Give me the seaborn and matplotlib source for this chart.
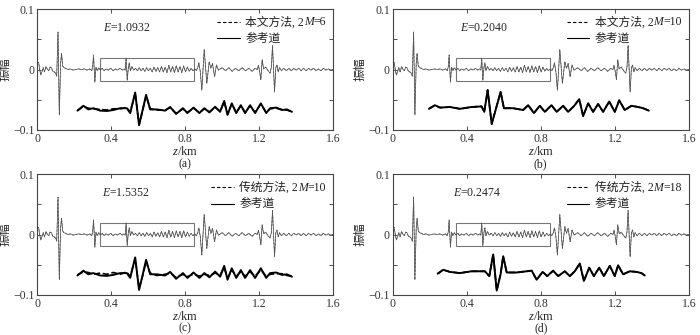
import matplotlib
matplotlib.use("Agg")
import matplotlib.pyplot as plt
from matplotlib.patches import Rectangle
from matplotlib.lines import Line2D
from matplotlib.offsetbox import (AnchoredOffsetbox, DrawingArea, HPacker,
                                  TextArea, VPacker)
import seaborn as sns

sns.set_style("ticks")
plt.rcParams['font.family'] = ['Liberation Serif', 'Noto Sans CJK SC']
plt.rcParams['mathtext.fontset'] = 'custom'
plt.rcParams['mathtext.it'] = 'Liberation Serif:italic'
plt.rcParams['mathtext.rm'] = 'Liberation Serif'

# main seismic trace (same in all panels)
main_z = [0.000, 0.008, 0.015, 0.020, 0.027, 0.033, 0.040, 0.048, 0.056, 0.063,
          0.070, 0.077, 0.085, 0.093, 0.100, 0.106, 0.113, 0.120, 0.127, 0.132,
          0.138, 0.145, 0.155, 0.165, 0.180, 0.195, 0.210, 0.225, 0.240, 0.255,
          0.270, 0.285, 0.295, 0.300, 0.305, 0.312, 0.318, 0.325, 0.333, 0.342,
          0.352, 0.362, 0.372, 0.385, 0.398, 0.410, 0.422, 0.435, 0.448, 0.460,
          0.470, 0.476, 0.481, 0.487, 0.493, 0.498, 0.504, 0.512, 0.522, 0.532,
          0.542, 0.552, 0.562, 0.572, 0.582, 0.592, 0.602, 0.612, 0.622, 0.632,
          0.642, 0.652, 0.662, 0.672, 0.682, 0.692, 0.702, 0.712, 0.722, 0.732,
          0.742, 0.752, 0.762, 0.772, 0.782, 0.792, 0.802, 0.812, 0.822, 0.832,
          0.842, 0.852, 0.860, 0.868, 0.874, 0.882, 0.890, 0.903, 0.917, 0.930,
          0.939, 0.948, 0.959, 0.969, 0.980, 1.000, 1.018, 1.036, 1.054, 1.072,
          1.090, 1.108, 1.126, 1.144, 1.162, 1.178, 1.190, 1.196, 1.203, 1.209,
          1.216, 1.224, 1.235, 1.248, 1.259, 1.266, 1.272, 1.283, 1.290, 1.296,
          1.303, 1.310, 1.320, 1.333, 1.347, 1.360, 1.374, 1.387, 1.400, 1.414,
          1.427, 1.440, 1.454, 1.467, 1.480, 1.494, 1.507, 1.520, 1.534, 1.547,
          1.560, 1.574, 1.587, 1.600]
main_amp = [0.010, 0.012, -0.002, -0.009, -0.003, 0.003, -0.004, 0.005, 0.000, -0.002,
            0.004, 0.003, -0.003, -0.004, -0.006, -0.011, 0.062, -0.075, 0.010, 0.027,
            0.006, 0.003, 0.002, 0.000, 0.001, -0.001, 0.000, 0.001, 0.000, 0.001,
            -0.001, 0.001, -0.002, 0.004, 0.024, -0.021, 0.004, -0.002, 0.003, -0.001,
            0.002, -0.002, 0.001, -0.001, 0.002, -0.002, 0.001, -0.001, 0.002, -0.001,
            0.001, -0.001, 0.019, -0.018, 0.003, 0.011, -0.002, 0.005, -0.001, 0.002,
            -0.002, 0.003, -0.002, 0.002, -0.003, 0.003, -0.002, 0.002, -0.004, 0.004,
            -0.003, 0.003, -0.004, 0.005, -0.004, 0.004, -0.005, 0.007, -0.004, 0.005,
            -0.005, 0.006, -0.004, 0.005, -0.005, 0.006, -0.004, 0.004, -0.003, 0.002,
            -0.002, 0.001, -0.002, 0.003, 0.011, -0.004, -0.034, 0.033, -0.023, 0.013,
            0.002, 0.010, -0.012, 0.0075, -0.001, 0.003, -0.002, 0.003, -0.003, 0.002,
            -0.002, 0.003, -0.002, 0.002, -0.003, 0.002, 0.000, 0.007, -0.004, -0.017,
            0.016, 0.001, 0.004, -0.002, -0.006, 0.004, 0.040, -0.037, 0.003, 0.0075,
            -0.004, 0.003, -0.002, 0.002, -0.002, 0.002, -0.002, 0.002, -0.001, 0.002,
            -0.002, 0.002, -0.002, 0.002, -0.001, 0.002, -0.002, 0.001, -0.002, 0.002,
            -0.001, 0.001, -0.001, 0.000]

# magnified window traces, panels (a) and (c)
det_z_ac = [0.218, 0.250, 0.277, 0.304, 0.341, 0.377, 0.412, 0.449, 0.485, 0.503,
            0.530, 0.551, 0.571, 0.589, 0.611, 0.647, 0.692, 0.719, 0.751, 0.788,
            0.812, 0.845, 0.877, 0.904, 0.931, 0.962, 0.989, 1.011, 1.029, 1.052,
            1.076, 1.101, 1.124, 1.151, 1.178, 1.209, 1.238, 1.259, 1.292, 1.323,
            1.350, 1.377]
det_ref_ac = [-0.068, -0.060, -0.066, -0.064, -0.068, -0.0686, -0.067, -0.064, -0.064, -0.072,
              -0.038, -0.092, -0.066, -0.042, -0.066, -0.066, -0.068, -0.062, -0.0735, -0.064,
              -0.072, -0.063, -0.072, -0.064, -0.071, -0.0615, -0.070, -0.052, -0.075, -0.056,
              -0.072, -0.059, -0.072, -0.059, -0.072, -0.056, -0.072, -0.064, -0.063, -0.067,
              -0.066, -0.070]
det_a = [-0.068, -0.061, -0.064, -0.065, -0.066, -0.0670, -0.065, -0.065, -0.063, -0.071,
         -0.039, -0.091, -0.067, -0.043, -0.065, -0.067, -0.067, -0.063, -0.0725, -0.065,
         -0.071, -0.064, -0.071, -0.065, -0.070, -0.0625, -0.069, -0.053, -0.074, -0.057,
         -0.071, -0.060, -0.071, -0.060, -0.071, -0.057, -0.071, -0.065, -0.064, -0.066,
         -0.067, -0.070]
det_c = [-0.067, -0.062, -0.063, -0.066, -0.064, -0.0660, -0.063, -0.066, -0.062, -0.070,
         -0.040, -0.089, -0.068, -0.045, -0.064, -0.068, -0.066, -0.064, -0.0710, -0.066,
         -0.070, -0.066, -0.069, -0.066, -0.068, -0.0640, -0.067, -0.055, -0.072, -0.059,
         -0.069, -0.062, -0.069, -0.062, -0.069, -0.059, -0.069, -0.066, -0.065, -0.065,
         -0.068, -0.069]

# magnified window trace, panel (b)
det_z_b = [0.196, 0.228, 0.255, 0.309, 0.363, 0.426, 0.480, 0.495, 0.513, 0.535,
           0.556, 0.583, 0.601, 0.651, 0.705, 0.732, 0.763, 0.795, 0.822, 0.858,
           0.886, 0.921, 0.948, 0.981, 1.008, 1.029, 1.056, 1.083, 1.110, 1.137,
           1.170, 1.200, 1.224, 1.254, 1.290, 1.326, 1.353, 1.384]
det_ref_b = [-0.065, -0.059, -0.063, -0.062, -0.065, -0.062, -0.061, -0.070, -0.034, -0.090,
             -0.067, -0.037, -0.064, -0.064, -0.067, -0.059, -0.072, -0.060, -0.070, -0.059,
             -0.070, -0.060, -0.070, -0.060, -0.049, -0.077, -0.056, -0.070, -0.057, -0.070,
             -0.053, -0.070, -0.051, -0.067, -0.060, -0.062, -0.064, -0.068]

# magnified window trace, panel (d)
det_z_d = [0.243, 0.273, 0.309, 0.363, 0.426, 0.498, 0.522, 0.543, 0.562, 0.583,
           0.597, 0.616, 0.670, 0.724, 0.751, 0.778, 0.810, 0.835, 0.867, 0.894,
           0.930, 0.957, 0.984, 1.011, 1.033, 1.062, 1.087, 1.116, 1.141, 1.173,
           1.200, 1.218, 1.245, 1.281, 1.317, 1.344, 1.362]
det_ref_d = [-0.065, -0.0585, -0.062, -0.064, -0.061, -0.061, -0.069, -0.033, -0.093, -0.066,
             -0.036, -0.063, -0.063, -0.061, -0.060, -0.075, -0.062, -0.069, -0.060, -0.069,
             -0.061, -0.069, -0.061, -0.048, -0.077, -0.055, -0.069, -0.055, -0.069, -0.052,
             -0.069, -0.051, -0.066, -0.061, -0.062, -0.064, -0.068]

panel_tags = ['(a)', '(b)', '(c)', '(d)']
method_names = ['本文方法', '本文方法', '传统方法', '传统方法']
order_vals = ['6', '10', '10', '18']
err_texts = ['$E$=1.0932', '$E$=0.2040', '$E$=1.5352', '$E$=0.2474']
err_z = [0.357, 0.363, 0.350, 0.327]
ref_label = '参考道'
x_ticks = [0, 0.4, 0.8, 1.2, 1.6]
x_ticklabels = ['0', '0.4', '0.8', '1.2', '1.6']
y_ticks = [-0.1, -0.05, 0, 0.05, 0.1]
y_ticklabels = ['\u22120.1', '', '0', '', '0.1']
box_z = (0.342, 0.850)
box_amp = (-0.0185, 0.0195)

detail_sets = [
    (det_z_ac, det_ref_ac, det_a),
    (det_z_b, det_ref_b, det_ref_b),
    (det_z_ac, det_ref_ac, det_c),
    (det_z_d, det_ref_d, det_ref_d),
]

FS = 8.5
TXT = dict(fontsize=FS, color='#222222')


def handle_box(ls):
    da = DrawingArea(16, 6, 0, 0)
    da.add_artist(Line2D([0, 16], [3, 3], color='black', lw=0.8, linestyle=ls))
    return da


def make_legend(ax, name, order):
    label1 = HPacker(children=[TextArea(name + ', 2', textprops=TXT),
                               TextArea('M', textprops=dict(TXT, style='italic')),
                               TextArea('=' + order, textprops=TXT)],
                     align='baseline', pad=0, sep=0)
    row1 = HPacker(children=[handle_box((0, (3, 2))), label1],
                   align='center', pad=0, sep=4)
    row2 = HPacker(children=[handle_box('-'), TextArea(ref_label, textprops=TXT)],
                   align='center', pad=0, sep=4)
    box = VPacker(children=[row1, row2], align='left', pad=0, sep=3)
    anchored = AnchoredOffsetbox(loc='upper right', child=box, pad=0.2,
                                 borderpad=0.3, frameon=False)
    ax.add_artist(anchored)


fig = plt.figure(figsize=(7, 3.35), dpi=100)
positions = [
    [0.053, 0.612, 0.423, 0.361],
    [0.561, 0.612, 0.423, 0.361],
    [0.053, 0.120, 0.423, 0.360],
    [0.561, 0.120, 0.423, 0.360],
]

for i in range(4):
    ax = fig.add_axes(positions[i])
    dz, dref, dmeth = detail_sets[i]
    # main trace: reference solid + method dashed (overlapping)
    sns.lineplot(x=main_z, y=main_amp, ax=ax, color='#555555', lw=0.5, sort=False)
    sns.lineplot(x=main_z, y=main_amp, ax=ax, color='#555555', lw=0.5,
                 linestyle='--', sort=False)
    # magnified window
    sns.lineplot(x=dz, y=dref, ax=ax, color='black', lw=1.4, sort=False)
    sns.lineplot(x=dz, y=dmeth, ax=ax, color='black', lw=1.2, linestyle='--',
                 sort=False)
    ax.add_patch(Rectangle((box_z[0], box_amp[0]), box_z[1] - box_z[0],
                           box_amp[1] - box_amp[0], fill=False,
                           edgecolor='#777777', lw=0.8))
    ax.set_xlim(0, 1.6)
    ax.set_ylim(-0.1, 0.1)
    ax.set_xticks(x_ticks)
    ax.set_xticklabels(x_ticklabels)
    ax.set_yticks(y_ticks)
    ax.set_yticklabels(y_ticklabels)
    ax.tick_params(direction='in', length=3, width=0.6, labelsize=FS,
                   top=True, right=True, pad=2, colors='#333333')
    for s in ax.spines.values():
        s.set_color('#444444')
        s.set_linewidth(0.8)
    ax.set_xlabel('$z$/km', fontsize=9, labelpad=0)
    ax.set_ylabel('振幅', fontsize=FS)
    ax.yaxis.set_label_coords(-0.088, 0.5)
    ax.text(err_z[i], 0.068, err_texts[i], fontsize=FS, va='center')
    make_legend(ax, method_names[i], order_vals[i])
    ax.text(0.5, -0.28, panel_tags[i], transform=ax.transAxes, ha='center',
            va='center', fontsize=FS)

fig.savefig('out.png', dpi=100)
